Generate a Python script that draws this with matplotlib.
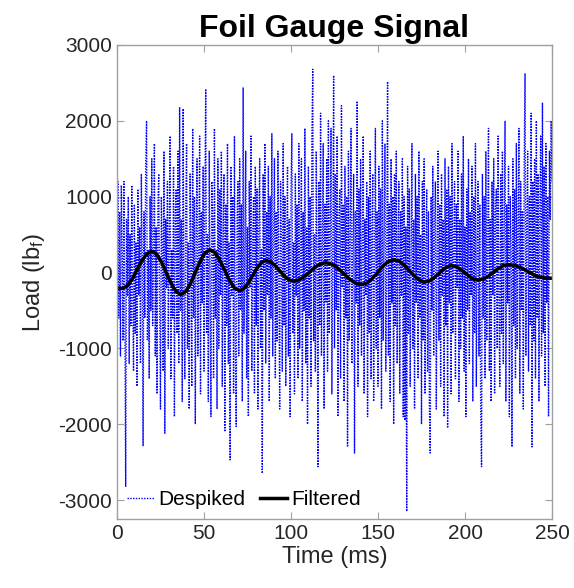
import numpy as np
import matplotlib
matplotlib.use('Agg')
import matplotlib.pyplot as plt

# despiked foil gauge load (lbf), sampled every 0.5 ms
despiked = [
    -200, 1200, -600, 800, -1100, 1150, 300, -900, 1200, -400, -2820, 700, -300, 1000, -1200, 500, -700, 1150, -200, -1300,
    900, -800, 400, -1500, 1100, -300, 600, -1200, 1300, 200, -2290, 800, -600, 1400, 2000, -900, 300, -1400, 1000, -500,
    1500, -700, 200, 1700, -1100, 600, -1600, 900, 1300, -400, -1800, 1000, 400, -1300, 1600, -2120, 700, -200, 1200, -1000,
    500, 1800, -1400, 300, -600, 1400, -1900, 800, 1100, -800, 1600, -1200, 2180, -500, 700, -1700, 2160, -300, -1400, 900,
    1700, -1000, 400, -1800, 1300, 200, -1500, 1900, -600, 1000, -2000, 600, 1500, -1100, 300, 1800, -1600, 800, -400, 1400,
    -1300, 1000, 2420, -800, 500, -1700, 1600, -200, -1900, 1200, 700, -1400, 1900, -600, 300, -1800, 1500, -1000, 1100, -300,
    1600, -1500, 600, 1300, -2100, 900, -700, 1700, -1200, 400, -2470, 1400, -300, 1000, -1600, 1800, -900, -2030, 700, 1200,
    -1100, 1500, -500, 900, -1700, 2440, -800, 300, 1600, -1400, 600, -1900, 1200, -200, 1800, -1300, 500, 1000, -1600, 1400,
    -700, 1100, -1800, 600, 1500, -1000, 300, -2650, 1300, -500, 1700, -1200, 800, -300, 1400, -1700, 1000, -600, 1830, -1100,
    500, 1500, -1400, 800, -900, 1600, -200, -1800, 1200, 400, -1300, 1700, -700, 1000, -1500, 300, 1400, -1100, 700, -1900,
    1100, 1830, -800, 400, -1600, 1300, -300, 900, -1400, 1700, -1000, 200, 1500, -1700, 800, -500, 1900, -1200, 600, -2000,
    1400, -600, 1000, -1500, 1800, 2680, -900, 500, -1300, 1600, 200, -2560, 1200, -700, 2100, -1100, 400, 1700, -1800, 900,
    -400, 1500, -1300, 2000, -800, 600, 1900, -1600, 300, 2600, -1000, 1300, -500, 1800, -1900, 700, 1100, -1400, 2200, -200,
    900, -1700, 1400, -600, 1000, -2300, 1600, -900, 500, 1900, -1200, 300, 1300, -2380, 800, -400, 2260, -1500, 1100, -700,
    1500, -1100, 400, 1800, -1600, 700, -300, 1200, -1900, 1000, -800, 1600, -1400, 600, 1300, -1700, 200, 1900, -1000, 800,
    -1500, 1400, -600, 1100, -1800, 2000, -900, 500, 1700, -1300, 300, 2520, -1100, 900, -1700, 1500, -400, 1000, -2000, 1300,
    -700, 1600, -1200, 400, 1200, -1600, 800, -300, 1500, -1900, 1000, -1950, 600, -3150, 1400, -800, 1100, -1500, 300, 1700,
    -1000, 700, -1800, 1300, -400, 1000, -1400, 1600, -600, 500, -2000, 1200, -900, 1500, -1600, 400, 1100, -1300, 800, -1700,
    -2380, 1000, -500, 1400, -1100, 600, 1200, -1800, 300, 1600, -900, 900, -1500, 1300, -300, 700, -1900, 1500, -700, 1100,
    -2050, 1400, -400, 1000, -1600, 1700, -800, 500, 1200, -1400, 900, -200, 1600, -1700, 700, -1000, 1300, -600, 1800, -1300,
    600, -1900, 1100, -500, 1500, -1200, 800, -300, 1400, -1700, 1000, -800, 1700, -1500, 400, 1200, -1100, 900, -1800, -2560,
    1300, -600, 1000, -1400, 1600, -900, 500, 1900, -1300, 700, -1700, 1200, -300, 1500, -1600, 800, 1100, -1000, 1800, -500,
    -1500, 1300, -800, 1600, -1200, 600, 2000, -1700, 900, -400, 1400, -1900, 1000, 300, -2300, 1500, -700, 1100, -1400, 1700,
    -1000, 600, 1900, -1600, 1200, -500, 800, -1800, 1400, 2620, -1100, 700, 1600, -1300, 1000, -700, 2100, -2300, 1200, -900,
    1500, -1400, 2000, -600, 1300, -1700, 900, 1800, -1100, 2240, -800, 1400, -1500, 1700, -400, 1000, -1900, 1600, 700, 2000,
    1200,
]
t_despiked = np.arange(len(despiked)) * 0.5

# low-pass filtered signal
t_filtered = [0, 1.5, 3, 5.8, 8.7, 11.5, 14.3, 17.2, 20, 22.8, 25.6, 28.4, 31.2, 34.0, 36.8,
              39.6, 42.3, 45.1, 47.9, 50.6, 53.4, 56.2, 59.0, 61.9, 64.7, 67.5, 70.3,
              72.9, 75.4, 78.0, 80.5, 83.1, 85.6, 88.2, 90.9, 93.5, 96.1, 98.8, 101.4,
              104.5, 107.6, 110.7, 113.8, 116.9, 120, 123.4, 126.9, 130.3, 133.7, 137.2, 140.6,
              143.7, 146.8, 149.9, 153.0, 156.1, 159.2, 162.2, 165.1, 168.1, 171.1, 174.0, 177,
              179.6, 182.1, 184.7, 187.2, 189.8, 192.3, 194.9, 197.4, 200.0, 202.5, 205.1, 207.6,
              210.5, 213.4, 216.3, 219.1, 222.0, 224.9, 228.6, 232.3, 236.0, 239.6, 243.3, 247, 250]
filtered = [-200, -207, -210, -177, -88, 35, 157, 247, 280, 242, 137, -5, -148, -252, -290,
            -250, -142, 5, 153, 260, 300, 264, 165, 30, -105, -204, -240,
            -213, -140, -40, 60, 133, 160, 142, 91, 23, -46, -97, -115,
            -99, -54, 8, 69, 114, 130, 111, 57, -15, -88, -141, -160,
            -138, -77, 5, 88, 148, 170, 150, 96, 22, -51, -105, -125,
            -111, -71, -18, 36, 76, 90, 77, 42, -5, -53, -87, -100,
            -86, -49, 3, 54, 91, 105, 93, 60, 15, -30, -63, -75, -75]

plt.rcParams['font.family'] = ['Liberation Sans', 'DejaVu Sans']
plt.rcParams['mathtext.default'] = 'regular'
plt.rcParams['axes.unicode_minus'] = False

fig = plt.figure(figsize=(5.74, 5.88), dpi=100)
ax = fig.add_axes([0.2038, 0.1173, 0.7579, 0.8062])

ax.plot(t_despiked, despiked, color=(0, 0, 1), linestyle=(0, (1, 1)), linewidth=1.0, label='Despiked')
ax.plot(t_filtered, filtered, color='black', linewidth=2.5, label='Filtered')

ax.set_xlim(0, 250)
ax.set_ylim(-3250, 3000)
ax.set_xticks([0, 50, 100, 150, 200, 250])
ax.set_yticks([-3000, -2000, -1000, 0, 1000, 2000, 3000])

ax.tick_params(direction='in', length=5, width=0.8, colors='#a0a0a0',
               labelcolor='#262626', labelsize=15, top=True, right=True)
for s in ax.spines.values():
    s.set_color('#a0a0a0')
    s.set_linewidth(1.0)

ax.set_title('Foil Gauge Signal', fontsize=23, fontweight='bold', pad=6)
ax.set_xlabel('Time (ms)', fontsize=17, color='#262626', labelpad=2)
ax.set_ylabel('Load (lb$_f$)', fontsize=17, color='#262626', labelpad=8)

ax.legend(loc='lower left', bbox_to_anchor=(-0.01, -0.01), ncol=2, frameon=False,
          fontsize=15, handlelength=1.3, handletextpad=0.2, columnspacing=0.7,
          borderaxespad=0.3)

fig.savefig('out.png', dpi=100)
